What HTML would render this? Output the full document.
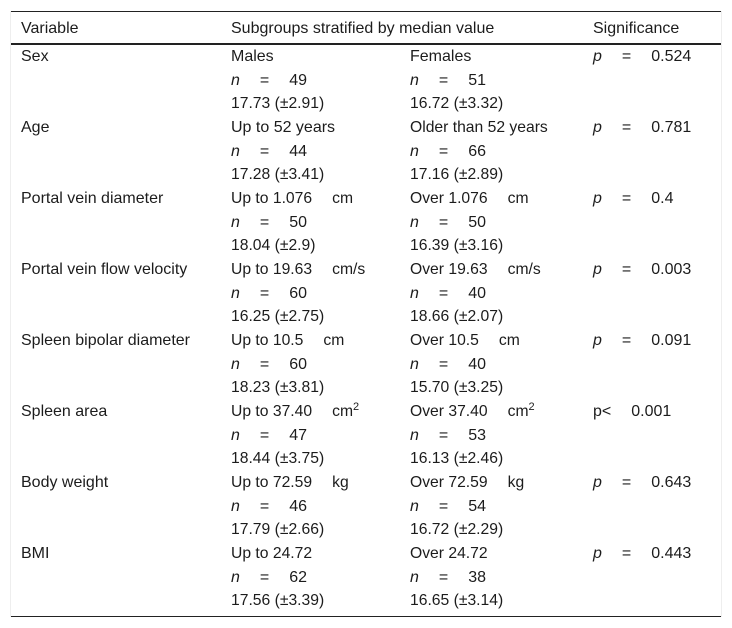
<!DOCTYPE html>
<html>
<head>
<meta charset="utf-8">
<style>
html,body{margin:0;padding:0;background:#fff;}
#t{position:relative;width:732px;height:628px;overflow:hidden;background:#fff;font-family:"Liberation Sans",Arial,sans-serif;font-size:16px;color:#1c1c1c;}
.c{position:absolute;line-height:23.67px;white-space:nowrap;margin-top:1px;}
.c div{height:23.67px;}
.c div:nth-child(1),.c div:nth-child(3){font-size:15.7px;}
.c div.w{font-size:16px;}
.r{position:absolute;left:11px;width:710px;background:#222;}
.v{position:absolute;top:11px;width:1px;height:606px;background:#eee;}
i{font-style:italic;}
.g{display:inline-block;width:20px;}
sup{font-size:11px;line-height:0;vertical-align:baseline;position:relative;top:-6px;}
</style>
</head>
<body>
<div id="t">
<div class="v" style="left:10px"></div>
<div class="v" style="left:721px"></div>
<div class="r" style="top:11px;height:1px"></div>
<div class="r" style="top:43px;height:2px"></div>
<div class="r" style="top:616px;height:1px"></div>

<div class="c" style="left:21px;top:16px">Variable</div>
<div class="c" style="left:231px;top:16px">Subgroups stratified by median value</div>
<div class="c" style="left:593px;top:16px">Significance</div>

<div class="c" style="left:21px;top:44px">Sex</div>
<div class="c" style="left:231px;top:44px"><div class="w">Males</div><div><i>n</i><span class="g"></span>=<span class="g"></span>49</div><div>17.73 (±2.91)</div></div>
<div class="c" style="left:410px;top:44px"><div class="w">Females</div><div><i>n</i><span class="g"></span>=<span class="g"></span>51</div><div>16.72 (±3.32)</div></div>
<div class="c" style="left:593px;top:44px"><i>p</i><span class="g"></span>=<span class="g"></span>0.524</div>

<div class="c" style="left:21px;top:115px">Age</div>
<div class="c" style="left:231px;top:115px"><div class="w">Up to 52 years</div><div><i>n</i><span class="g"></span>=<span class="g"></span>44</div><div>17.28 (±3.41)</div></div>
<div class="c" style="left:410px;top:115px"><div>Older than 52 years</div><div><i>n</i><span class="g"></span>=<span class="g"></span>66</div><div>17.16 (±2.89)</div></div>
<div class="c" style="left:593px;top:115px"><i>p</i><span class="g"></span>=<span class="g"></span>0.781</div>

<div class="c" style="left:21px;top:186px">Portal vein diameter</div>
<div class="c" style="left:231px;top:186px"><div>Up to 1.076<span class="g"></span>cm</div><div><i>n</i><span class="g"></span>=<span class="g"></span>50</div><div>18.04 (±2.9)</div></div>
<div class="c" style="left:410px;top:186px"><div>Over 1.076<span class="g"></span>cm</div><div><i>n</i><span class="g"></span>=<span class="g"></span>50</div><div>16.39 (±3.16)</div></div>
<div class="c" style="left:593px;top:186px"><i>p</i><span class="g"></span>=<span class="g"></span>0.4</div>

<div class="c" style="left:21px;top:257px">Portal vein flow velocity</div>
<div class="c" style="left:231px;top:257px"><div>Up to 19.63<span class="g"></span>cm/s</div><div><i>n</i><span class="g"></span>=<span class="g"></span>60</div><div>16.25 (±2.75)</div></div>
<div class="c" style="left:410px;top:257px"><div>Over 19.63<span class="g"></span>cm/s</div><div><i>n</i><span class="g"></span>=<span class="g"></span>40</div><div>18.66 (±2.07)</div></div>
<div class="c" style="left:593px;top:257px"><i>p</i><span class="g"></span>=<span class="g"></span>0.003</div>

<div class="c" style="left:21px;top:328px">Spleen bipolar diameter</div>
<div class="c" style="left:231px;top:328px"><div>Up to 10.5<span class="g"></span>cm</div><div><i>n</i><span class="g"></span>=<span class="g"></span>60</div><div>18.23 (±3.81)</div></div>
<div class="c" style="left:410px;top:328px"><div>Over 10.5<span class="g"></span>cm</div><div><i>n</i><span class="g"></span>=<span class="g"></span>40</div><div>15.70 (±3.25)</div></div>
<div class="c" style="left:593px;top:328px"><i>p</i><span class="g"></span>=<span class="g"></span>0.091</div>

<div class="c" style="left:21px;top:399px">Spleen area</div>
<div class="c" style="left:231px;top:399px"><div>Up to 37.40<span class="g"></span>cm<sup>2</sup></div><div><i>n</i><span class="g"></span>=<span class="g"></span>47</div><div>18.44 (±3.75)</div></div>
<div class="c" style="left:410px;top:399px"><div>Over 37.40<span class="g"></span>cm<sup>2</sup></div><div><i>n</i><span class="g"></span>=<span class="g"></span>53</div><div>16.13 (±2.46)</div></div>
<div class="c" style="left:593px;top:399px">p&lt;<span class="g"></span>0.001</div>

<div class="c" style="left:21px;top:470px">Body weight</div>
<div class="c" style="left:231px;top:470px"><div>Up to 72.59<span class="g"></span>kg</div><div><i>n</i><span class="g"></span>=<span class="g"></span>46</div><div>17.79 (±2.66)</div></div>
<div class="c" style="left:410px;top:470px"><div>Over 72.59<span class="g"></span>kg</div><div><i>n</i><span class="g"></span>=<span class="g"></span>54</div><div>16.72 (±2.29)</div></div>
<div class="c" style="left:593px;top:470px"><i>p</i><span class="g"></span>=<span class="g"></span>0.643</div>

<div class="c" style="left:21px;top:541px">BMI</div>
<div class="c" style="left:231px;top:541px"><div>Up to 24.72</div><div><i>n</i><span class="g"></span>=<span class="g"></span>62</div><div>17.56 (±3.39)</div></div>
<div class="c" style="left:410px;top:541px"><div>Over 24.72</div><div><i>n</i><span class="g"></span>=<span class="g"></span>38</div><div>16.65 (±3.14)</div></div>
<div class="c" style="left:593px;top:541px"><i>p</i><span class="g"></span>=<span class="g"></span>0.443</div>
</div>
</body>
</html>
